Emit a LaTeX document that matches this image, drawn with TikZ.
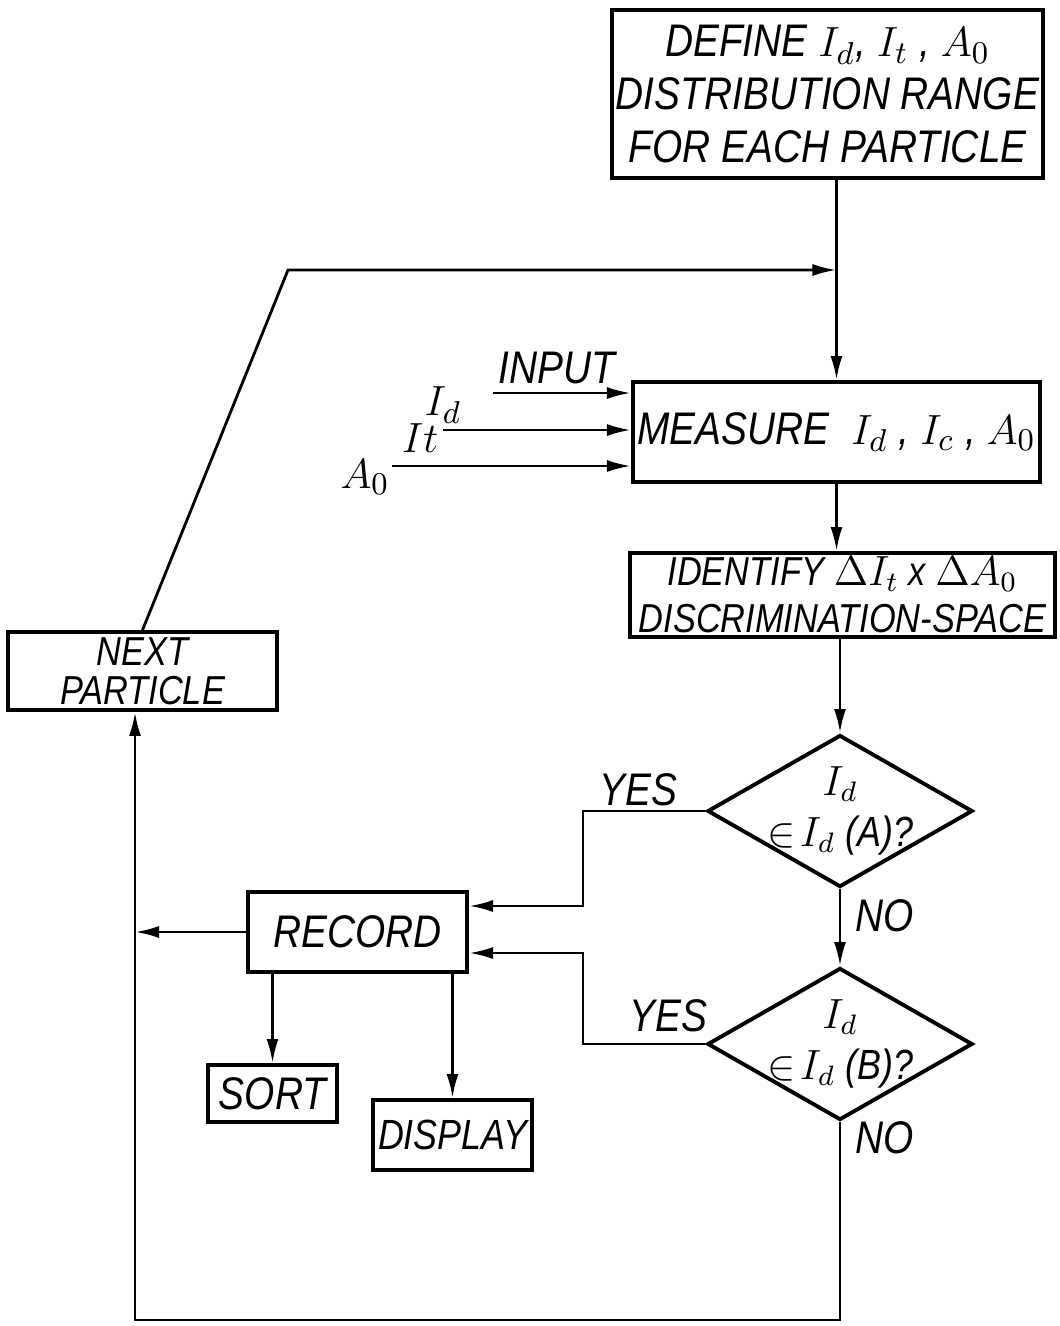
\documentclass[tikz,border=0pt]{standalone}
\usepackage{fontspec}
\setmainfont{Liberation Sans}[FakeStretch=0.85]
\usetikzlibrary{arrows.meta,shapes.geometric,positioning}
\begin{document}
\begin{tikzpicture}[x=0.01cm,y=-0.01cm,
 box/.style={draw,line width=1.1pt,inner sep=0pt,align=center,font=\fontsize{13}{15}\selectfont\itshape},
 ask/.style={diamond,draw,line width=1.1pt,inner sep=-5pt,aspect=1.74,minimum width=2.65cm,minimum height=1.52cm,
  align=center,font=\fontsize{12}{14.5}\selectfont\itshape},
 lbl/.style={inner sep=1pt,align=center,font=\fontsize{13}{12}\selectfont\itshape},
 flow/.style={line width=0.8pt,-{Latex[length=2.4mm,width=1.2mm]}}]
 \useasboundingbox (0,0) rectangle (1059,1326);
 \node[box,minimum width=4.31cm,minimum height=1.68cm] (def) at (827.5,94)
 {DEFINE $I_d$, $I_t$ , $A_0$\\DISTRIBUTION RANGE\\FOR EACH PARTICLE};
 \node[box,minimum width=4.07cm,minimum height=1cm] (meas) at (836.5,432)
 {MEASURE \ $I_d$ , $I_c$ , $A_0$};
 \node[box,minimum width=4.25cm,minimum height=0.84cm,font=\fontsize{11.5}{13.5}\selectfont\itshape] (ident) at (842.5,595)
 {IDENTIFY $\Delta I_t$ x $\Delta A_0$\\DISCRIMINATION-SPACE};
 \node[box,minimum width=2.69cm,minimum height=0.78cm,font=\fontsize{11.5}{11}\selectfont\itshape] (next) at (142.5,671)
 {NEXT\\PARTICLE};
 \node[ask] (qa) at (840,811) {$I_d$\\$\in\! I_d$ (A)?};
 \node[ask] (qb) at (840,1044) {$I_d$\\$\in\! I_d$ (B)?};
 \node[box,minimum width=2.19cm,minimum height=0.8cm] (rec) at (357.5,932) {RECORD};
 \node[box,minimum width=1.29cm,minimum height=0.57cm] (sort) at (272.5,1093.5) {SORT};
 \node[box,minimum width=1.59cm,minimum height=0.7cm,font=\fontsize{12}{14}\selectfont\itshape] (disp) at (452.5,1135) {DISPLAY};
 \node[lbl] (inp) at (557,368) {INPUT};
 \node[lbl] (lid) at (443,405) {$I_d$};
 \node[lbl] (lit) at (420,438) {$It$};
 \node[lbl] (lao) at (365,477) {$A_0$};
 \coordinate (sid) at (493,393);
 \coordinate (sit) at (443,430);
 \coordinate (sao) at (392,466);
 \coordinate (bend) at (288,270);
 \coordinate (ya) at (583,906);
 \coordinate (yb) at (583,953);
 \coordinate (lowc) at (135,1320);
 \draw[flow] (def.south -| meas.north) -- (meas.north);
 \draw[flow] (next.north) -- (bend) -- (bend -| meas.north);
 \draw[flow] (sid) -- (sid -| meas.west);
 \draw[flow] (sit) -- (sit -| meas.west);
 \draw[flow] (sao) -- (sao -| meas.west);
 \draw[flow] (meas.south) -- (meas.south |- ident.north);
 \draw[flow] (ident.south -| qa.north) -- (qa.north);
 \draw[flow] (qa.south) -- node[lbl,right=3pt,pos=.35]{NO} (qb.north);
 \draw[flow] (qa.west) -- node[lbl,above,pos=.55]{YES} (qa.west -| ya) -- (ya) -- (ya -| rec.east);
 \draw[flow] (qb.west) -- node[lbl,above=2pt,pos=.3]{YES} (qb.west -| yb) -- (yb) -- (yb -| rec.east);
 \draw[flow] (qb.south) -- node[lbl,right=3pt,pos=.08]{NO} (qb.south |- lowc) -- (lowc) -- (lowc |- next.south);
 \draw[flow] (rec.west) -- (rec.west -| lowc);
 \draw[flow] (sort.north |- rec.south) -- (sort.north);
 \draw[flow] (disp.north |- rec.south) -- (disp.north);
\end{tikzpicture}
\end{document}
